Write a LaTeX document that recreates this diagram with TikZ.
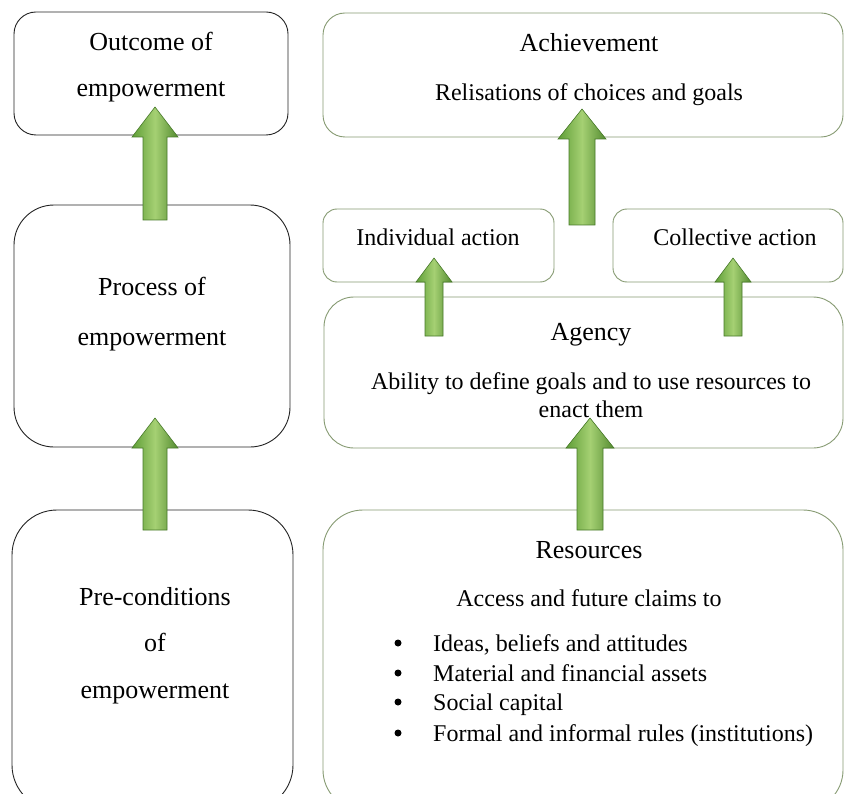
\documentclass[tikz,border=0pt]{standalone}
\usepackage{fontspec}
\setmainfont{Liberation Serif}
\definecolor{lboxc}{RGB}{35,35,35}
\definecolor{rboxc}{RGB}{135,155,115}
\definecolor{agreen}{RGB}{95,158,55}
\definecolor{agreenl}{RGB}{165,208,115}
\definecolor{agreend}{RGB}{72,122,42}
\tikzset{
  lbox/.style={draw=lboxc, line width=0.9pt, inner sep=0pt, outer sep=0pt},
  rbox/.style={draw=rboxc, line width=0.9pt, inner sep=0pt, outer sep=0pt},
  txt/.style={font=\fontsize{24}{28}\selectfont, inner sep=0pt, text height=16pt, text depth=5pt, yshift=-3pt},
  headtxt/.style={font=\fontsize{26}{30}\selectfont, inner sep=0pt, text height=17pt, text depth=6pt, yshift=-3pt},
  bulletdot/.style={circle, fill=black, inner sep=0pt, minimum size=7pt},
  barrow/.style={left color=agreen, right color=agreen!88!black, middle color=agreenl, draw=agreend, line width=0.6pt},
}
% x, y bottom, y tip, shaft half width, head half width, head length
\newcommand\blockarrow[6]{%
  \path[barrow] (#1-#4,#2) -- (#1-#4,#3+#6) -- (#1-#5,#3+#6) -- (#1,#3)
    -- (#1+#5,#3+#6) -- (#1+#4,#3+#6) -- (#1+#4,#2) -- cycle;}
\begin{document}
\begin{tikzpicture}[x=1pt,y=-1pt]
\useasboundingbox (0,0) rectangle (845,794);
\clip (0,0) rectangle (845,794);
\fill[white] (0,0) rectangle (845,794);

% left column boxes
\node[lbox, rounded corners=22pt, minimum width=274pt, minimum height=123pt] (outcome) at (151,73.5) {};
\node[lbox, rounded corners=40pt, minimum width=276pt, minimum height=242pt] (process) at (152,326) {};
\node[lbox, rounded corners=45pt, minimum width=281pt, minimum height=300pt] (precond) at (152.5,660) {};

% right column boxes
\node[rbox, rounded corners=22pt, minimum width=520pt, minimum height=124pt] (achieve) at (583,75) {};
\node[rbox, rounded corners=14pt, minimum width=231pt, minimum height=73pt] (indiv) at (438.5,245.5) {};
\node[rbox, rounded corners=14pt, minimum width=230pt, minimum height=73pt] (collect) at (728,245.5) {};
\node[rbox, rounded corners=30pt, minimum width=519pt, minimum height=151pt] (agency) at (583.5,372.5) {};
\node[rbox, rounded corners=40pt, minimum width=520pt, minimum height=300pt] (resources) at (583,660) {};

% texts left
\node[headtxt] (o1) at (151,42) {Outcome of};
\node[headtxt] (o2) at (151,88) {empowerment};
\node[headtxt] (p1) at (152,287) {Process of};
\node[headtxt] (p2) at (152,337) {empowerment};
\node[headtxt] (c1) at (155,597) {Pre-conditions};
\node[headtxt] (c2) at (155,643) {of};
\node[headtxt] (c3) at (155,690) {empowerment};

% texts right
\node[headtxt] (a1) at (589,43) {Achievement};
\node[txt] (a2) at (589,92) {Relisations of choices and goals};
\node[txt] (i1) at (438,237) {Individual action};
\node[txt] (k1) at (735,237) {Collective action};
\node[headtxt] (g1) at (591,332) {Agency};
\node[txt] (g2) at (591,381) {Ability to define goals and to use resources to};
\node[txt] (g3) at (591,409) {enact them};
\node[headtxt] (r1) at (589,550) {Resources};
\node[txt] (r2) at (589,598) {Access and future claims to};
\node[bulletdot] (b1) at (398,643) {};
\node[bulletdot] (b2) at (398,673) {};
\node[bulletdot] (b3) at (398,702) {};
\node[bulletdot] (b4) at (398,733) {};
\node[txt, anchor=west] (l1) at (433,643) {Ideas, beliefs and attitudes};
\node[txt, anchor=west] (l2) at (433,673) {Material and financial assets};
\node[txt, anchor=west] (l3) at (433,702) {Social capital};
\node[txt, anchor=west] (l4) at (433,733) {Formal and informal rules (institutions)};

% block arrows
\blockarrow{155}{220}{107}{12}{23}{30}
\blockarrow{155}{530}{418}{12}{23}{30}
\blockarrow{590}{530}{418}{13}{24}{30}
\blockarrow{434}{336}{258}{9}{18}{24}
\blockarrow{733}{336}{258}{9}{18}{24}
\blockarrow{582}{225}{109}{13}{24}{30}
\end{tikzpicture}
\end{document}
